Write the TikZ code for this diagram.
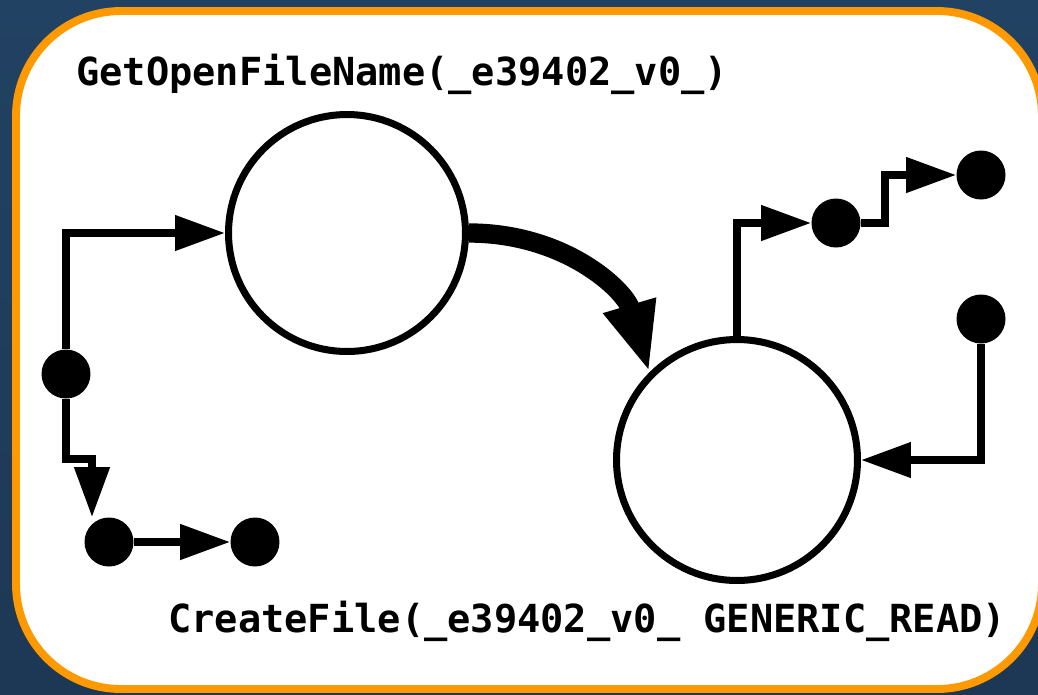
\documentclass[tikz,border=0pt]{standalone}
\usepackage{fontspec}
\newfontfamily\callfont{DejaVu Sans Mono}
\usetikzlibrary{arrows.meta, positioning, calc}
\definecolor{panelblue}{RGB}{34, 66, 99}
\definecolor{paneldark}{RGB}{29, 56, 84}
\definecolor{frameorange}{RGB}{255, 153, 0}

\begin{document}
\begin{tikzpicture}[
  x=0.02cm, y=-0.02cm,
  state/.style   = {circle, draw, line width=4pt, inner sep=0pt},
  dot/.style     = {circle, fill=black, minimum size=0.98cm, inner sep=0pt},
  edge/.style    = {-{Triangle[length=1cm, width=0.68cm]}, line width=4.3pt},
  bigedge/.style = {-{Triangle[length=1.4cm, width=1cm]}, line width=11pt},
  call/.style    = {font=\callfont\bfseries\fontsize{22}{26}\selectfont,
                    anchor=base west, inner sep=0pt}
]

%% Canvas and frame
\useasboundingbox (0,0) rectangle (1038,694);
\shade[top color=panelblue, bottom color=paneldark] (0,0) rectangle (1038,694);
\draw[frameorange, fill=white, line width=4.5pt, rounded corners=2.1cm]
  (16,11) rectangle (1042,689);

%% Calls
\node[state, minimum size=4.74cm] (getopen) at (347,233) {};
\node[state, minimum size=4.82cm] (create) at (737,460) {};

\node[call] (getopenlabel) at (76,85) {GetOpenFileName(\_e39402\_v0\_)};
\node[call] (createlabel) at (168,632) {CreateFile(\_e39402\_v0\_ GENERIC\_READ)};

%% Data points
\node[dot] (srcdot) at (66,374) {};
\node[dot] (leftdot) at (109,542) {};
\node[dot] (leftend) at (255,542) {};
\node[dot] (handledot) at (836,223) {};
\node[dot] (handleend) at (981,175) {};
\node[dot] (flagdot) at (981,319) {};

%% Arrows
\draw[edge] (srcdot.north) |- (getopen.west);
\draw[edge] (srcdot.south) -- ++(0,60) -| ([xshift=-0.34cm]leftdot.north);
\draw[edge] (leftdot) -- (leftend);
\draw[bigedge] (getopen.east) .. controls (565,233) and (625,290) .. (create.135);
\draw[edge] (create.north) |- (handledot);
\draw[edge] (handledot.east) -- ++(24,0) |- (handleend);
\draw[edge] (flagdot.south) |- (create.east);

\end{tikzpicture}
\end{document}
